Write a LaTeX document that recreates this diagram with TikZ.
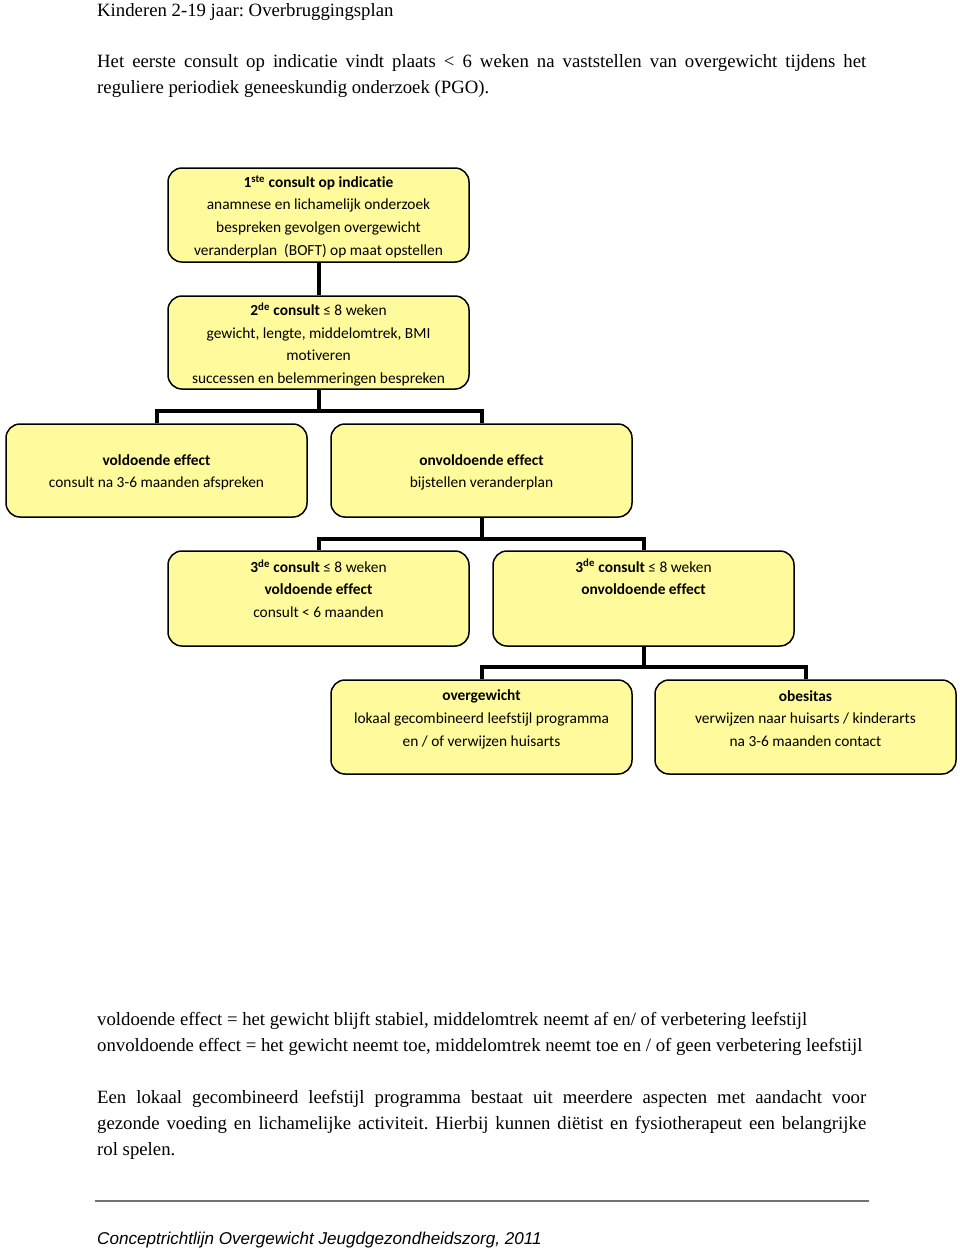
\documentclass[tikz,border=0pt]{standalone}
\usepackage{fontspec}
\setmainfont{Liberation Serif}
\newfontfamily\boxfont[Ligatures=NoCommon]{Carlito}
\newfontfamily\footfont{Liberation Sans}
\frenchspacing
\begin{document}
\begin{tikzpicture}[x=1pt,y=-1pt]
\definecolor{boxyellow}{RGB}{255,250,155}
\tikzset{
  flowbox/.style={draw=black, line width=1.5pt, fill=boxyellow, rounded corners=14pt, inner sep=0pt},
  boxtext/.style={font=\boxfont\fontsize{15.4}{22.6}\selectfont, align=center, inner sep=0pt},
  conn/.style={line width=4pt, draw=black},
  bodytext/.style={font=\fontsize{18.75}{26}\selectfont, anchor=base west, inner sep=0pt},
}
\useasboundingbox (0,0) rectangle (960,1248);
\fill[white] (0,0) rectangle (960,1248);

% header text
\node[bodytext] (title) at (97,16) {Kinderen 2-19 jaar: Overbruggingsplan};
\node[bodytext] (intro1) at (97,67) {\makebox[769pt][s]{Het eerste consult op indicatie vindt plaats < 6 weken na vaststellen van overgewicht tijdens het}};
\node[bodytext] (intro2) at (97,93) {reguliere periodiek geneeskundig onderzoek (PGO).};

% boxes
\node[flowbox, minimum width=301pt, minimum height=94pt] (b1) at (318.5,215) {};
\node[flowbox, minimum width=301pt, minimum height=93pt] (b2) at (318.5,342.5) {};
\node[flowbox, minimum width=301pt, minimum height=93pt] (b3) at (156.5,470.5) {};
\node[flowbox, minimum width=301pt, minimum height=93pt] (b4) at (481.5,470.5) {};
\node[flowbox, minimum width=301pt, minimum height=95pt] (b5) at (318.5,598.5) {};
\node[flowbox, minimum width=301pt, minimum height=95pt] (b6) at (643.5,598.5) {};
\node[flowbox, minimum width=301pt, minimum height=94pt] (b7) at (481.5,727) {};
\node[flowbox, minimum width=301pt, minimum height=94pt] (b8) at (805.5,727) {};

% box texts
\node[boxtext] (t1) at (318.5,216.5) {\textbf{1\textsuperscript{ste} consult op indicatie}\\anamnese en lichamelijk onderzoek\\bespreken gevolgen overgewicht\\veranderplan\ \ (BOFT) op maat opstellen};
\node[boxtext] (t2) at (318.5,344.5) {\textbf{2\textsuperscript{de} consult} ≤ 8 weken\\gewicht, lengte, middelomtrek, BMI\\motiveren\\successen en belemmeringen bespreken};
\node[boxtext] (t3) at (156.5,472.5) {\textbf{voldoende effect}\\consult na 3-6 maanden afspreken};
\node[boxtext] (t4) at (481.5,472.5) {\textbf{onvoldoende effect}\\bijstellen veranderplan};
\node[boxtext] (t5) at (318.5,588.5) {\textbf{3\textsuperscript{de} consult} ≤ 8 weken\\\textbf{voldoende effect}\\consult < 6 maanden};
\node[boxtext] (t6) at (643.5,577) {\textbf{3\textsuperscript{de} consult} ≤ 8 weken\\\textbf{onvoldoende effect}};
\node[boxtext] (t7) at (481.5,719.5) {\textbf{overgewicht}\\lokaal gecombineerd leefstijl programma\\en / of verwijzen huisarts};
\node[boxtext] (t8) at (805.5,718.5) {\textbf{obesitas}\\verwijzen naar huisarts / kinderarts\\na 3-6 maanden contact};

% connectors
\draw[conn] (b1.south) -- (b2.north);
\coordinate (j1) at (318.5,411);
\draw[conn] (b2.south) -- (j1);
\draw[conn] (b3.north) |- (j1) -| (b4.north);
\coordinate (j2) at (481.5,539);
\draw[conn] (b4.south) -- (j2);
\draw[conn] (b5.north) |- (j2) -| (b6.north);
\coordinate (j3) at (643.5,667);
\draw[conn] (b6.south) -- (j3);
\draw[conn] (b7.north) |- (j3) -| (b8.north);

% bottom text
\node[bodytext] (def1) at (97,1025) {voldoende effect = het gewicht blijft stabiel, middelomtrek neemt af en/ of verbetering leefstijl};
\node[bodytext] (def2) at (97,1051) {onvoldoende effect = het gewicht neemt toe, middelomtrek neemt toe en / of geen verbetering leefstijl};
\node[bodytext] (p1) at (97,1103) {\makebox[769pt][s]{Een lokaal gecombineerd leefstijl programma bestaat uit meerdere aspecten met aandacht voor}};
\node[bodytext] (p2) at (97,1129) {\makebox[769pt][s]{gezonde voeding en lichamelijke activiteit. Hierbij kunnen diëtist en fysiotherapeut een belangrijke}};
\node[bodytext] (p3) at (97,1155) {rol spelen.};

% footer
\coordinate (r1) at (95,1201);
\coordinate (r2) at (869,1201);
\draw[line width=2.2pt, draw=black!55] (r1) -- (r2);
\node[font=\footfont\itshape\fontsize{17.1}{20}\selectfont, anchor=base west, inner sep=0pt] (foot) at (97,1244) {Conceptrichtlijn Overgewicht Jeugdgezondheidszorg, 2011};
\end{tikzpicture}
\end{document}
